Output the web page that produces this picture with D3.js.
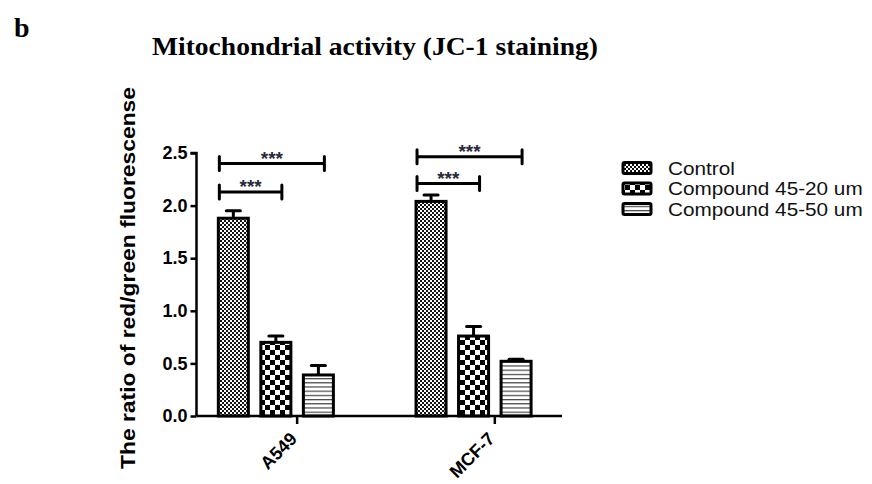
<!DOCTYPE html>
<html>
<head>
<meta charset="utf-8">
<script src="https://cdn.jsdelivr.net/npm/d3@7"></script>
<style>
  html, body { margin: 0; padding: 0; background: #fff; }
  svg { display: block; }
</style>
</head>
<body>
<svg id="chart" width="872" height="484"></svg>
<script>
// Cell lines on the x axis
const cellLines = ["A549", "MCF-7"];
// Treatment series
const seriesNames = ["Control", "Compound 45-20 um", "Compound 45-50 um"];
// Mean red/green ratio per cell line, one array per series
const controlMeans = [1.88, 2.04];
const compound20Means = [0.70, 0.76];
const compound50Means = [0.39, 0.52];
// Upper error (SD) per cell line
const controlErr = [0.07, 0.06];
const compound20Err = [0.06, 0.09];
const compound50Err = [0.09, 0.02];
// Y axis ticks
const yTicks = [0.0, 0.5, 1.0, 1.5, 2.0, 2.5];
// Significance comparisons: cell line, bar from, bar to, bracket height (ratio units), label
const sigGroups = ["A549", "A549", "MCF-7", "MCF-7"];
const sigFrom = [0, 0, 0, 0];
const sigTo = [2, 1, 2, 1];
const sigLevel = [2.40, 2.13, 2.465, 2.21];
const sigLabel = ["***", "***", "***", "***"];

const means = [controlMeans, compound20Means, compound50Means];
const errs = [controlErr, compound20Err, compound50Err];
const patternIds = ["pat-fine", "pat-check", "pat-stripe"];

const svg = d3.select("#chart");
const defs = svg.append("defs");

// Fine checkerboard (Control)
const pFine = defs.append("pattern").attr("id", "pat-fine")
  .attr("patternUnits", "userSpaceOnUse").attr("width", 4).attr("height", 4);
pFine.append("rect").attr("width", 4).attr("height", 4).attr("fill", "#fff");
pFine.append("rect").attr("width", 2).attr("height", 2).attr("fill", "#111");
pFine.append("rect").attr("x", 2).attr("y", 2).attr("width", 2).attr("height", 2).attr("fill", "#111");

// Coarse checkerboard (20 um)
const pCheck = defs.append("pattern").attr("id", "pat-check")
  .attr("patternUnits", "userSpaceOnUse").attr("width", 10).attr("height", 10);
pCheck.append("rect").attr("width", 10).attr("height", 10).attr("fill", "#fff");
pCheck.append("rect").attr("width", 5).attr("height", 5).attr("fill", "#000");
pCheck.append("rect").attr("x", 5).attr("y", 5).attr("width", 5).attr("height", 5).attr("fill", "#000");

// Horizontal stripes (50 um)
const pStripe = defs.append("pattern").attr("id", "pat-stripe")
  .attr("patternUnits", "userSpaceOnUse").attr("width", 8).attr("height", 4.2);
pStripe.append("rect").attr("width", 8).attr("height", 4.2).attr("fill", "#fff");
pStripe.append("rect").attr("y", 0).attr("width", 8).attr("height", 1.2).attr("fill", "#444");

// Plot geometry
const axisX = 196.5, axisRight = 562;
const y = d3.scaleLinear().domain([0, 2.5]).range([416, 153]);
const x0 = d3.scaleBand().domain(cellLines).range([axisX, axisRight])
  .paddingInner(0.418).paddingOuter(0.1334).align(0.414);
const x1 = d3.scaleBand().domain(d3.range(seriesNames.length)).range([0, x0.bandwidth()])
  .paddingInner(0.294).paddingOuter(0);

const font = "Arial, 'Liberation Sans', sans-serif";
const serif = "'Times New Roman', 'Liberation Serif', serif";

// Panel letter and title
svg.append("text").attr("x", 14).attr("y", 37)
  .attr("font-family", serif).attr("font-weight", "bold").attr("font-size", 28)
  .text("b");
svg.append("text").attr("x", 375).attr("y", 55).attr("text-anchor", "middle")
  .attr("font-family", serif).attr("font-weight", "bold").attr("font-size", 25)
  .attr("textLength", 446).attr("lengthAdjust", "spacingAndGlyphs")
  .text("Mitochondrial activity (JC-1 staining)");

// Bars
const bars = [];
cellLines.forEach((g, gi) => {
  seriesNames.forEach((s, si) => {
    bars.push({ g, gi, si, v: means[si][gi], e: errs[si][gi] });
  });
});

const barG = svg.append("g");
// error whiskers (upper only)
barG.selectAll("line.err").data(bars).join("line").attr("class", "err")
  .attr("x1", d => x0(d.g) + x1(d.si) + x1.bandwidth() / 2)
  .attr("x2", d => x0(d.g) + x1(d.si) + x1.bandwidth() / 2)
  .attr("y1", d => y(d.v)).attr("y2", d => y(d.v + d.e))
  .attr("stroke", "#000").attr("stroke-width", 3);
barG.selectAll("line.cap").data(bars).join("line").attr("class", "cap")
  .attr("x1", d => x0(d.g) + x1(d.si) + x1.bandwidth() / 2 - 7)
  .attr("x2", d => x0(d.g) + x1(d.si) + x1.bandwidth() / 2 + 7)
  .attr("y1", d => y(d.v + d.e)).attr("y2", d => y(d.v + d.e))
  .attr("stroke", "#000").attr("stroke-width", 3).attr("stroke-linecap", "round");
barG.selectAll("rect.bar").data(bars).join("rect").attr("class", "bar")
  .attr("x", d => x0(d.g) + x1(d.si))
  .attr("width", x1.bandwidth())
  .attr("y", d => y(d.v))
  .attr("height", d => y(0) - y(d.v))
  .attr("fill", d => `url(#${patternIds[d.si]})`)
  .attr("stroke", "#000").attr("stroke-width", 3);

// Y axis
const yAxis = d3.axisLeft(y).tickValues(yTicks).tickFormat(d3.format(".1f")).tickSize(6).tickPadding(3);
const yg = svg.append("g").attr("transform", `translate(${axisX},0)`).call(yAxis);
yg.select(".domain").attr("stroke-width", 2.5).attr("d", `M-6,${y(2.5)}H0V${y(0)}`);
yg.selectAll(".tick line").attr("stroke-width", 2.5);
yg.selectAll(".tick text").attr("font-family", font).attr("font-weight", "bold")
  .attr("font-size", 18).attr("fill", "#000");

// X axis line with ticks between the 2nd and 3rd bar of each group
const tickX = g => x0(g) + (x1(1) + x1.bandwidth() + x1(2)) / 2;
svg.append("line").attr("x1", axisX).attr("x2", axisRight)
  .attr("y1", y(0)).attr("y2", y(0)).attr("stroke", "#000").attr("stroke-width", 2.5);
svg.selectAll("line.xtick").data(cellLines).join("line").attr("class", "xtick")
  .attr("x1", tickX).attr("x2", tickX)
  .attr("y1", y(0)).attr("y2", y(0) + 8)
  .attr("stroke", "#000").attr("stroke-width", 2.5);
svg.selectAll("text.xlab").data(cellLines).join("text").attr("class", "xlab")
  .attr("transform", g => `translate(${tickX(g) + 1},${y(0) + 24}) rotate(-45)`)
  .attr("text-anchor", "end")
  .attr("font-family", font).attr("font-weight", "bold").attr("font-size", 18)
  .text(g => g);

// Y axis title
svg.append("text")
  .attr("transform", `translate(135,278) rotate(-90)`)
  .attr("text-anchor", "middle")
  .attr("font-family", font).attr("font-weight", "bold").attr("font-size", 21)
  .attr("textLength", 382).attr("lengthAdjust", "spacingAndGlyphs")
  .text("The ratio of red/green fluorescense");

// Significance brackets
const sig = sigGroups.map((g, i) => ({ g, a: sigFrom[i], b: sigTo[i], lv: sigLevel[i], t: sigLabel[i] }));
const sg = svg.append("g");
sig.forEach(d => {
  const xa = x0(d.g) + x1(d.a) + 1;
  const xb = x0(d.g) + x1(d.b) + x1.bandwidth() * 0.7;
  const yy = y(d.lv);
  const path = `M${xa},${yy - 7}V${yy + 7}M${xa},${yy}H${xb}M${xb},${yy - 7}V${yy + 7}`;
  sg.append("path").attr("d", path).attr("fill", "none")
    .attr("stroke", "#000").attr("stroke-width", 3).attr("stroke-linecap", "round");
  sg.append("text").attr("x", (xa + xb) / 2).attr("y", yy + 1)
    .attr("text-anchor", "middle").attr("font-family", font).attr("font-weight", "bold")
    .attr("font-size", 19).attr("fill", "#2a2a3a").text(d.t);
});

// Legend: entries are drawn slightly wide, as in the source figure
const leg = svg.append("g");
seriesNames.forEach((s, i) => {
  const ly = 168 + i * 20.5;
  leg.append("rect").attr("x", 623).attr("y", ly - 5.5).attr("width", 28).attr("height", 11)
    .attr("rx", 1.5)
    .attr("fill", `url(#${patternIds[i]})`).attr("stroke", "#000").attr("stroke-width", 3);
  const t = leg.append("text").attr("x", 668).attr("y", ly + 6.5)
    .attr("font-family", font).attr("font-size", 18.5).attr("fill", "#111").text(s);
  const w = t.node().getComputedTextLength();
  t.attr("textLength", w * 1.12).attr("lengthAdjust", "spacingAndGlyphs");
});
</script>
</body>
</html>
